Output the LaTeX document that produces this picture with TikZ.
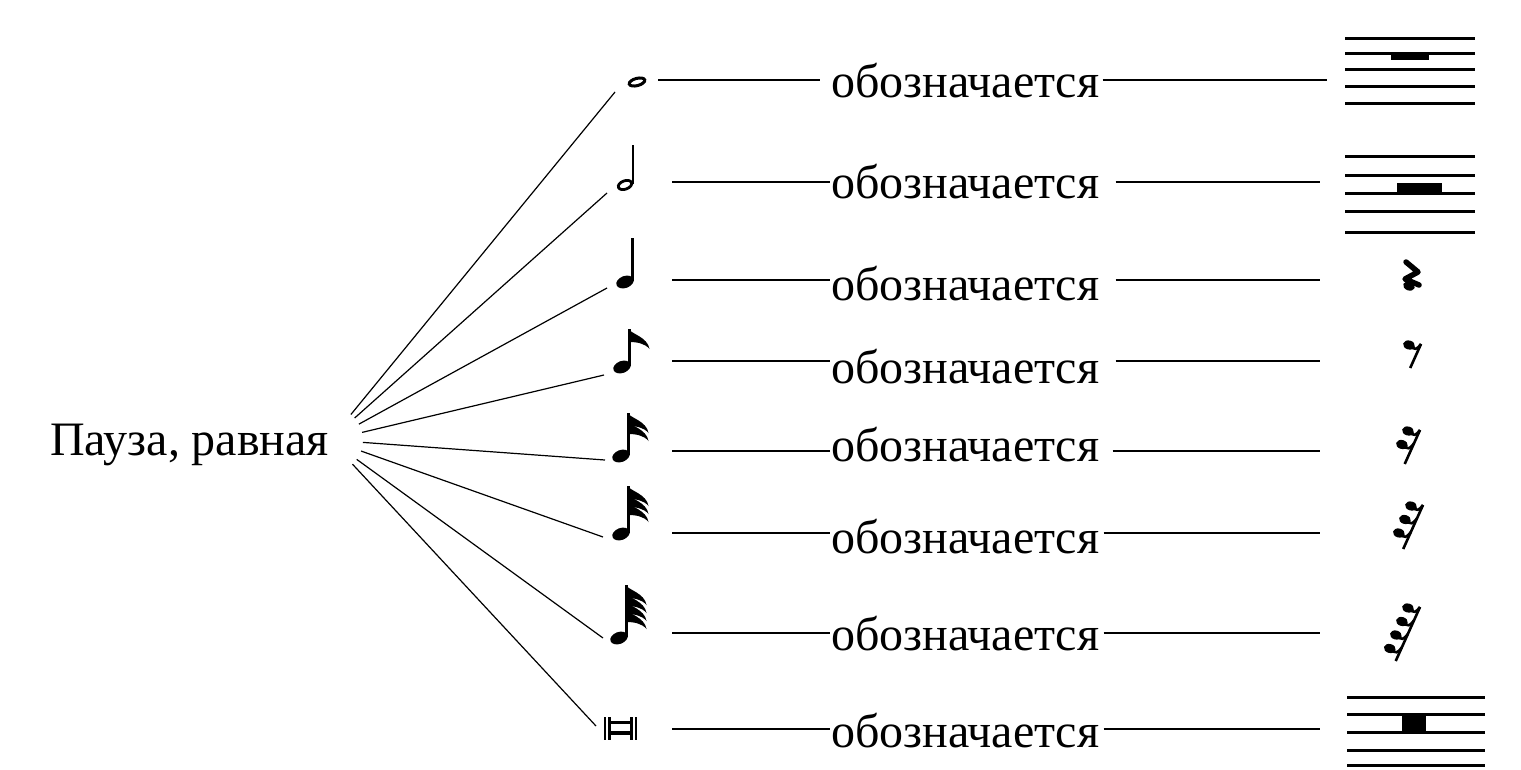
\documentclass[tikz,border=0pt]{standalone}
\usepackage{fontspec}
\setmainfont{Liberation Serif}

\begin{document}
\begin{tikzpicture}[
        x=1pt,
        y=-1pt,
        word/.style={inner sep=0pt, anchor=base west, font=\fontsize{48}{50}\selectfont},
        link/.style={line width=1.6pt},
        ray/.style={line width=1.2pt, shorten <=33pt},
        staff/.style={line width=3pt},
        crotchet/.pic={
            \fill[rotate=20] (0,0) ellipse (9pt and 6pt);
            \draw[line width=2.8pt] (7.8,-1) -- (7.8,-44);
        },
        flagged/.pic={
            \fill[rotate=20] (0,0) ellipse (9pt and 6pt);
            \draw[line width=2.8pt] (7.8,-1) -- (7.8,{-33-5*#1});
            \foreach \k in {1,...,#1}
                \fill[shift={(6.5,{-33-5*#1+8*(\k-1)})}]
                    (0,0) .. controls (3,5) and (19,8) .. (21,20)
                    .. controls (16,14) and (8,13) .. (0,13) -- cycle;
        },
        hook/.pic={
            \draw[line width=2.6pt] (0,0) -- ({-0.45*(10*#1+14)},{10*#1+14});
            \foreach \k [evaluate=\k as \d using (\k-1)*13.5] in {1,...,#1} {
                \fill[rotate around={-15:({-0.45*\d-12},{\d+1})}]
                    ({-0.45*\d-12},{\d+1}) ellipse (6pt and 4.5pt);
                \draw[line width=2.6pt] ({-0.45*\d-12},{\d+2})
                    .. controls ({-0.45*\d-5},{\d+6}) .. ({-0.45*\d},{\d});
            }
        }
        ]
        \useasboundingbox (0,0) rectangle (1521,769);

        % label on the left
        \node[word] (pause) at (50,455) {Пауза, равная};
        \coordinate (hub) at (330,440);

        % rays to the notes
        \foreach \i/\x/\y in {1/615/92, 2/607/193, 3/607/288, 4/604/375,
                              5/605/460, 6/603/537, 7/603/638, 8/596/726} {
            \coordinate (n\i) at (\x,\y);
            \draw[ray] (hub) -- (n\i);
        }

        % notes
        \draw[line width=3pt, rotate around={15:(637,82)}] (637,82) ellipse (8pt and 3.6pt);
        \draw[line width=2.8pt, rotate around={20:(625,185)}] (625,185) ellipse (7pt and 4.2pt);
        \draw[line width=2.8pt] (633,184) -- (633,145);
        \pic at (625,282) {crotchet};
        \pic at (622,367) {flagged=1};
        \pic at (621,456) {flagged=2};
        \pic at (621,534) {flagged=3};
        \pic at (619,638) {flagged=4};
        \foreach \x in {605,609.5,631.5,636}
            \draw[line width=2.4pt] (\x,717) -- (\x,740);
        \draw[line width=3.5pt] (609,722.5) -- (632,722.5) (609,733) -- (632,733);

        % rows: line y / baseline / line start / left gap / right gap / line end
        \foreach \i/\ly/\bl/\ls/\lg/\rg/\re in {
                1/80/97/658/11/3/1327,
                2/182/198/672/1/16/1320,
                3/280/300/672/1/16/1320,
                4/361/383/672/1/16/1320,
                5/451/461/672/1/13/1320,
                6/533/553/672/1/4/1320,
                7/633/650/672/1/4/1320,
                8/729/747/672/1/4/1320} {
            \node[word] (t\i) at (831,\bl) {обозначается};
            \coordinate (s\i) at (\ls,\ly);
            \coordinate (e\i) at (\re,\ly);
            \draw[link, shorten >=\lg pt] (s\i) -- (s\i -| t\i.west);
            \draw[link, shorten <=\rg pt] (e\i -| t\i.east) -- (e\i);
        }

        % rests
        \foreach \y in {38,53,69,86,103}
            \draw[staff] (1345,\y) -- (1475,\y);
        \fill (1391,53) rectangle (1429,60);
        \foreach \y in {156,175,193,211,232}
            \draw[staff] (1345,\y) -- (1475,\y);
        \fill (1397,183) rectangle (1442,193);
        \draw[line width=5.5pt, line join=round, line cap=round]
            (1406,262) -- (1418,272) -- (1405,279) -- (1419,285);
        \fill[rotate around={-20:(1409,286)}] (1409,286) ellipse (6pt and 4.5pt);
        \pic at (1421,344) {hook=1};
        \pic at (1420,430) {hook=2};
        \pic at (1423,505) {hook=3};
        \pic at (1420,607) {hook=4};
        \foreach \y in {697,714,732,750,765}
            \draw[staff] (1347,\y) -- (1485,\y);
        \fill (1402,714) rectangle (1426,732);
\end{tikzpicture}
\end{document}
